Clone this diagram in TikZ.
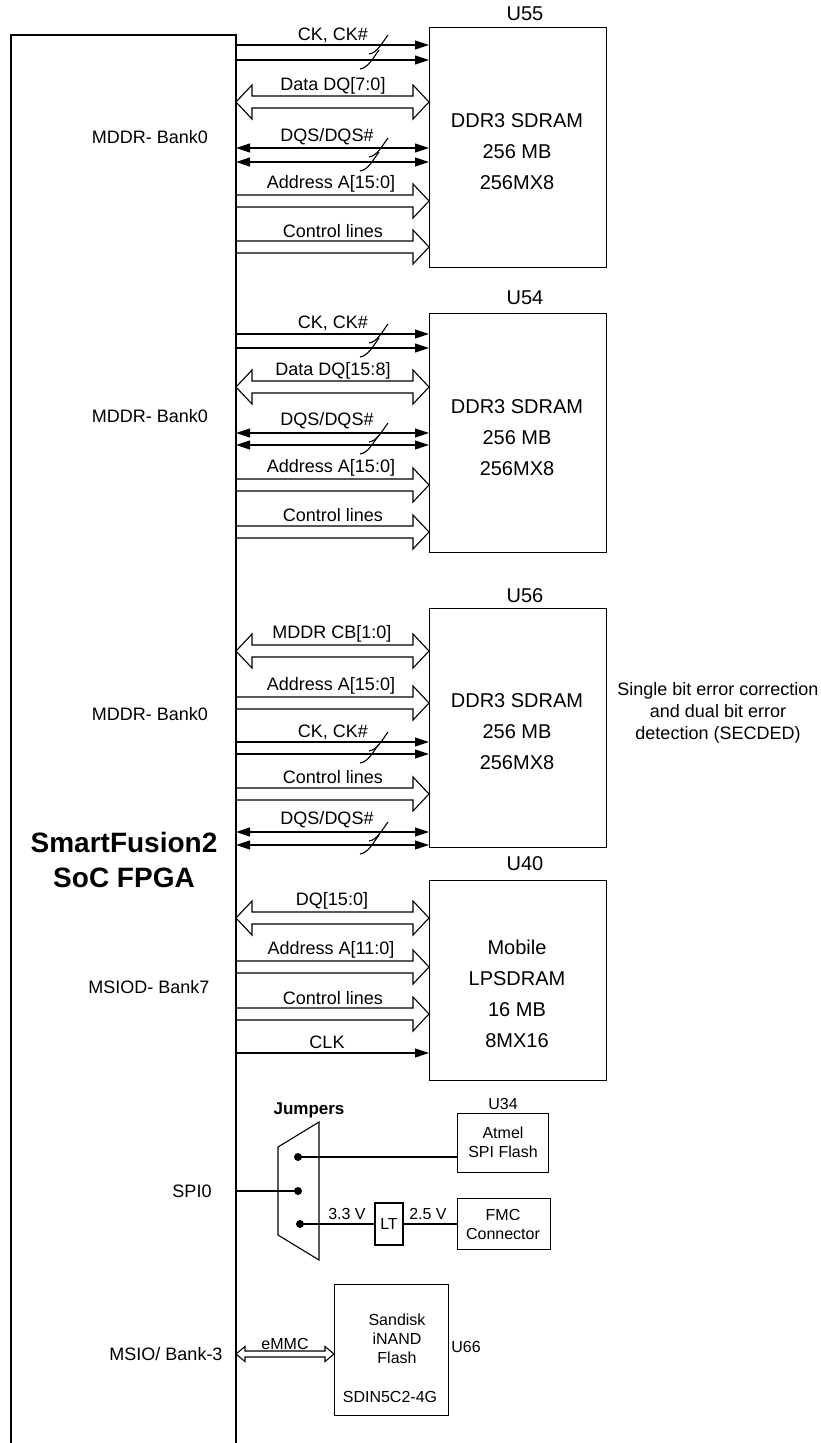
\documentclass[tikz,border=0pt]{standalone}
\usepackage{fontspec}
\setmainfont{Liberation Sans}
\usetikzlibrary{arrows.meta,calc}
\tikzset{
  ln/.style={line width=1.1pt},
  box/.style={draw, line width=1.2pt, anchor=north west, inner sep=0pt},
  lbl/.style={font=\fontsize{18}{21}\selectfont, inner sep=0pt},
  btxt/.style={font=\fontsize{20}{31}\selectfont, inner sep=0pt, align=center},
  sml/.style={font=\fontsize{16}{19}\selectfont, inner sep=0pt, align=center},
  sig/.style={line width=1.1pt, -{Triangle[length=14pt,width=9pt]}},
  bsig/.style={line width=1.1pt, {Triangle[length=14pt,width=9pt]}-{Triangle[length=14pt,width=9pt]}},
  fat/.style={line width=1.1pt, line join=miter},
  dot/.style={circle, fill, inner sep=0pt, minimum size=8pt},
}
% one-headed fat arrow (open at start)
\newcommand{\fatR}[2]{\draw[fat] let \p1=(#1), \p2=(#2) in
  (\x1,\y1+6pt) -- (\x2-16pt,\y1+6pt) -- (\x2-16pt,\y1+17pt) -- (\x2,\y1)
  -- (\x2-16pt,\y1-17pt) -- (\x2-16pt,\y1-6pt) -- (\x1,\y1-6pt);}
% two-headed fat arrow
\newcommand{\fatB}[2]{\draw[fat] let \p1=(#1), \p2=(#2) in
  (\x1,\y1) -- (\x1+16pt,\y1+17pt) -- (\x1+16pt,\y1+6pt) -- (\x2-16pt,\y1+6pt)
  -- (\x2-16pt,\y1+17pt) -- (\x2,\y1) -- (\x2-16pt,\y1-17pt) -- (\x2-16pt,\y1-6pt)
  -- (\x1+16pt,\y1-6pt) -- (\x1+16pt,\y1-17pt) -- cycle;}
% small two-headed fat arrow
\newcommand{\fatBs}[2]{\draw[fat] let \p1=(#1), \p2=(#2) in
  (\x1,\y1) -- (\x1+9pt,\y1+7.5pt) -- (\x1+9pt,\y1+3pt) -- (\x2-9pt,\y1+3pt)
  -- (\x2-9pt,\y1+7.5pt) -- (\x2,\y1) -- (\x2-9pt,\y1-7.5pt) -- (\x2-9pt,\y1-3pt)
  -- (\x1+9pt,\y1-3pt) -- (\x1+9pt,\y1-7.5pt) -- cycle;}
% bus break mark at (x,y)
\newcommand{\brk}[2]{\draw[ln] (#1+10,#2-10) .. controls (#1+4,#2-2) and (#1-1,#2+8) .. (#1-9,#2+9);}
\begin{document}
\begin{tikzpicture}[x=1pt,y=-1pt]
\fill[white] (0,0) rectangle (820,1443);
\useasboundingbox (0,0) rectangle (820,1443);

% FPGA outline
\draw[line width=1.3pt] (11,1443) -- (11,35) -- (236,35) -- (236,1443);
\node[font=\fontsize{28}{35}\bfseries\selectfont, align=center, inner sep=0pt] (fpga) at (124,860) {SmartFusion2\\SoC FPGA};

\node[lbl] (b1) at (150,137) {MDDR- Bank0};
\node[lbl] (b2) at (150,416) {MDDR- Bank0};
\node[lbl] (b3) at (150,714) {MDDR- Bank0};
\node[lbl] (b4) at (149,987) {MSIOD- Bank7};
\node[lbl] (b5) at (192,1191) {SPI0};
\node[lbl] (b6) at (166,1354) {MSIO/ Bank-3};

% ---------------- U55
\node[box, minimum width=177pt, minimum height=240pt] (u55) at (429,27) {};
\node[font=\fontsize{20}{24}\selectfont, inner sep=0pt] (u55l) at (525,14) {U55};
\node[btxt] (u55t) at (517,152) {DDR3 SDRAM\\256 MB\\256MX8};
\coordinate (a1) at (236,45);  \coordinate (a2) at (236,60);
\draw[sig] (a1) -- (u55.west |- a1);
\draw[sig] (a2) -- (u55.west |- a2);
\brk{378}{45} \brk{369}{60}
\node[lbl] at (333,35) {CK, CK\#};
\coordinate (a3) at (236,102);
\fatB{a3}{u55.west |- a3}
\node[lbl] at (333,86) {Data DQ[7:0]};
\coordinate (a4) at (236,148);  \coordinate (a5) at (236,162);
\draw[bsig] (a4) -- (u55.west |- a4);
\draw[bsig] (a5) -- (u55.west |- a5);
\brk{378}{148} \brk{369}{162}
\node[lbl] at (327,137) {DQS/DQS\#};
\coordinate (a6) at (236,201);
\fatR{a6}{u55.west |- a6}
\node[lbl] at (331,184) {Address A[15:0]};
\coordinate (a7) at (236,247);
\fatR{a7}{u55.west |- a7}
\node[lbl] at (333,231) {Control lines};

% ---------------- U54
\node[box, minimum width=177pt, minimum height=239pt] (u54) at (429,313) {};
\node[font=\fontsize{20}{24}\selectfont, inner sep=0pt] (u54l) at (525,298) {U54};
\node[btxt] (u54t) at (517,438) {DDR3 SDRAM\\256 MB\\256MX8};
\coordinate (c1) at (236,334);  \coordinate (c2) at (236,348);
\draw[sig] (c1) -- (u54.west |- c1);
\draw[sig] (c2) -- (u54.west |- c2);
\brk{378}{334} \brk{369}{348}
\node[lbl] at (333,323) {CK, CK\#};
\coordinate (c3) at (236,387);
\fatB{c3}{u54.west |- c3}
\node[lbl] at (333,371) {Data DQ[15:8]};
\coordinate (c4) at (236,433);  \coordinate (c5) at (236,445);
\draw[bsig] (c4) -- (u54.west |- c4);
\draw[bsig] (c5) -- (u54.west |- c5);
\brk{378}{433} \brk{369}{445}
\node[lbl] at (327,421) {DQS/DQS\#};
\coordinate (c6) at (236,485);
\fatR{c6}{u54.west |- c6}
\node[lbl] at (331,468) {Address A[15:0]};
\coordinate (c7) at (236,532);
\fatR{c7}{u54.west |- c7}
\node[lbl] at (333,515) {Control lines};

% ---------------- U56
\node[box, minimum width=177pt, minimum height=239pt] (u56) at (429,608) {};
\node[font=\fontsize{20}{24}\selectfont, inner sep=0pt] (u56l) at (525,596) {U56};
\node[btxt] (u56t) at (517,732) {DDR3 SDRAM\\256 MB\\256MX8};
\node[font=\fontsize{18}{22}\selectfont, align=center, inner sep=0pt] (sec) at (718,713)
  {Single bit error correction\\and dual bit error\\detection (SECDED)};
\coordinate (d1) at (236,651);
\fatB{d1}{u56.west |- d1}
\node[lbl] at (332,634) {MDDR CB[1:0]};
\coordinate (d2) at (236,703);
\fatR{d2}{u56.west |- d2}
\node[lbl] at (331,686) {Address A[15:0]};
\coordinate (d3) at (236,742);  \coordinate (d4) at (236,754);
\draw[sig] (d3) -- (u56.west |- d3);
\draw[sig] (d4) -- (u56.west |- d4);
\brk{378}{742} \brk{369}{754}
\node[lbl] at (333,732) {CK, CK\#};
\coordinate (d5) at (236,794);
\fatR{d5}{u56.west |- d5}
\node[lbl] at (333,777) {Control lines};
\coordinate (d6) at (236,832);  \coordinate (d7) at (236,845);
\draw[bsig] (d6) -- (u56.west |- d6);
\draw[bsig] (d7) -- (u56.west |- d7);
\brk{378}{832} \brk{369}{845}
\node[lbl] at (327,820) {DQS/DQS\#};

% ---------------- U40
\node[box, minimum width=177pt, minimum height=200pt] (u40) at (429,880) {};
\node[font=\fontsize{20}{24}\selectfont, inner sep=0pt] (u40l) at (525,864) {U40};
\node[btxt] (u40t) at (517,994) {Mobile\\LPSDRAM\\16 MB\\8MX16};
\coordinate (g1) at (236,918);
\fatB{g1}{u40.west |- g1}
\node[lbl] at (332,901) {DQ[15:0]};
\coordinate (g2) at (236,967);
\fatR{g2}{u40.west |- g2}
\node[lbl] at (331,950) {Address A[11:0]};
\coordinate (g3) at (236,1014);
\fatR{g3}{u40.west |- g3}
\node[lbl] at (333,998) {Control lines};
\coordinate (g4) at (236,1053);
\draw[sig] (g4) -- (u40.west |- g4);
\node[lbl] at (327,1042) {CLK};

% ---------------- SPI / jumpers
\node[font=\fontsize{17}{20}\bfseries\selectfont, inner sep=0pt] (jl) at (309,1110) {Jumpers};
\draw[ln] (319,1122) -- (278,1147) -- (278,1235) -- (319,1260) -- cycle;
\node[dot] (j1) at (298,1157) {};
\node[dot] (j2) at (298,1191) {};
\node[dot] (j3) at (300,1224) {};
\node[box, minimum width=91pt, minimum height=59pt] (atm) at (457,1113) {};
\node[sml] (atmt) at (503,1142) {Atmel\\SPI Flash};
\node[sml] (u34) at (503,1104) {U34};
\node[box, minimum width=28pt, minimum height=42pt, anchor=center, font=\fontsize{16}{19}\selectfont] (lt) at (389,1224) {LT};
\node[box, minimum width=93pt, minimum height=51pt] (fmc) at (457,1198) {};
\node[sml] (fmct) at (503,1224) {FMC\\Connector};
\coordinate (s0) at (236,1191);
\draw[ln] (s0) -- (j2.center);
\draw[ln] (j1.center) -- (atm.west |- j1);
\draw[ln] (j3.center) -- (lt.west |- j3);
\draw[ln] (lt.east |- j3) -- (fmc.west |- j3);
\node[sml] at (347,1214) {3.3 V};
\node[sml] at (428,1214) {2.5 V};

% ---------------- eMMC
\node[box, minimum width=114pt, minimum height=131pt] (emmc) at (334,1284) {};
\node[sml] (emt) at (397,1339) {Sandisk\\iNAND\\Flash};
\node[sml] (emp) at (390,1397) {SDIN5C2-4G};
\node[sml] (u66) at (466,1347) {U66};
\coordinate (h1) at (236,1354);
\fatBs{h1}{emmc.west |- h1}
\node[sml] at (285,1344) {eMMC};
\end{tikzpicture}
\end{document}
